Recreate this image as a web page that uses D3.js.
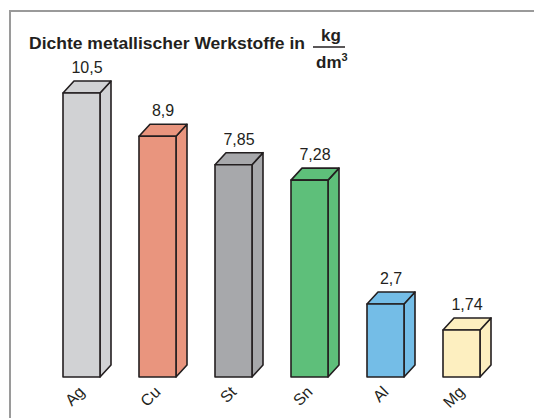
<!DOCTYPE html>
<html>
<head>
<meta charset="utf-8">
<script src="https://cdn.jsdelivr.net/npm/d3@7"></script>
<style>
  body { margin: 0; background: #fff; }
  text { font-family: "Liberation Sans", Arial, sans-serif; fill: #231f20; }
</style>
</head>
<body>
<div id="chart"></div>
<script>
var metals = ["Ag", "Cu", "St", "Sn", "Al", "Mg"];
var density = [10.5, 8.9, 7.85, 7.28, 2.7, 1.74];
var labels = ["10,5", "8,9", "7,85", "7,28", "2,7", "1,74"];
var colors = ["#d1d2d4", "#e9957e", "#a7a8ab", "#5ebf7a", "#74bde7", "#fdefc0"];

var width = 534, height = 418,
    base = 377,          // bottom of front faces
    depth = {x: 11, y: 12};

var svg = d3.select("#chart")
    .append("svg")
    .attr("width", width)
    .attr("height", height);

// frame (top and left edges only)
svg.append("path")
    .attr("d", "M10,418 V11 H534")
    .attr("fill", "none")
    .attr("stroke", "#9a9a9a")
    .attr("stroke-width", 2);

var x = d3.scaleBand()
    .domain(metals)
    .range([63, 480])
    .paddingInner(39 / 76)
    .paddingOuter(0);

var y = d3.scaleLinear()
    .domain([0, 10.5])
    .range([base, 93]);

var data = metals.map(function(m, i) {
    return {metal: m, value: density[i], label: labels[i], color: colors[i]};
});

var bar = svg.selectAll(".bar")
    .data(data)
    .enter().append("g")
    .attr("class", "bar");

bar.each(function(d) {
    var g = d3.select(this),
        x0 = x(d.metal),
        x1 = x0 + x.bandwidth(),
        yt = y(d.value),
        dx = depth.x, dy = depth.y;

    // side face
    g.append("path")
        .attr("d", "M" + x1 + "," + yt + " L" + (x1 + dx) + "," + (yt - dy) +
            " L" + (x1 + dx) + "," + (base - dy) + " L" + x1 + "," + base + "Z")
        .attr("fill", d.color);
    // top face
    g.append("path")
        .attr("d", "M" + x0 + "," + yt + " L" + (x0 + dx) + "," + (yt - dy) +
            " L" + (x1 + dx) + "," + (yt - dy) + " L" + x1 + "," + yt + "Z")
        .attr("fill", d.color);
    // front face
    g.append("rect")
        .attr("x", x0)
        .attr("y", yt)
        .attr("width", x.bandwidth())
        .attr("height", base - yt)
        .attr("fill", d.color);

    g.selectAll("path, rect")
        .attr("stroke", "#231f20")
        .attr("stroke-width", 1.6)
        .attr("stroke-linejoin", "round");

    // value label
    g.append("text")
        .attr("x", (x0 + x1 + dx) / 2)
        .attr("y", yt - dy - 8)
        .attr("text-anchor", "middle")
        .attr("font-size", 16)
        .text(d.label);

    // category label, rotated
    var lx = x0 + x.bandwidth() / 2 + 4, ly = 393;
    g.append("text")
        .attr("transform", "translate(" + lx + "," + ly + ") rotate(-45)")
        .attr("text-anchor", "end")
        .attr("font-size", 16)
        .text(d.metal);
});

// title
svg.append("text")
    .attr("x", 29)
    .attr("y", 49)
    .attr("font-size", 17)
    .attr("font-weight", "bold")
    .attr("textLength", 276)
    .attr("lengthAdjust", "spacingAndGlyphs")
    .text("Dichte metallischer Werkstoffe in");

svg.append("text")
    .attr("x", 331)
    .attr("y", 41)
    .attr("text-anchor", "middle")
    .attr("font-size", 17)
    .attr("font-weight", "bold")
    .text("kg");

svg.append("line")
    .attr("x1", 313).attr("x2", 345)
    .attr("y1", 47).attr("y2", 47)
    .attr("stroke", "#231f20")
    .attr("stroke-width", 1.5);

var unit = svg.append("text")
    .attr("x", 316)
    .attr("y", 68)
    .attr("font-size", 17)
    .attr("font-weight", "bold");
unit.append("tspan").text("dm");
unit.append("tspan")
    .attr("font-size", 11)
    .attr("dy", -7)
    .text("3");
</script>
</body>
</html>
